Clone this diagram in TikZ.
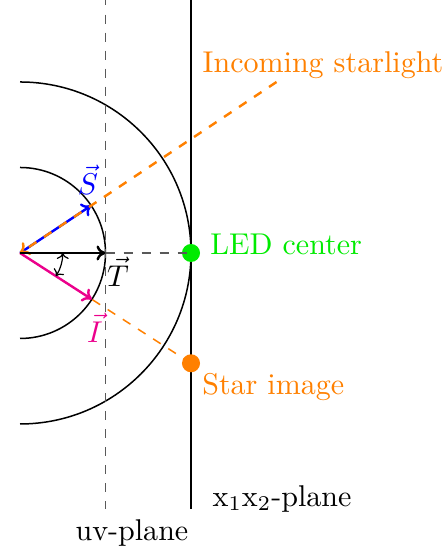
\documentclass[tikz,border=0pt]{standalone}
\usetikzlibrary{arrows.meta,calc}
\definecolor{myorange}{RGB}{255,128,0}
\definecolor{mypink}{RGB}{235,0,140}
\definecolor{myblue}{RGB}{0,0,255}
\definecolor{mygreen}{RGB}{0,235,0}
\begin{document}
\begin{tikzpicture}[
  plane/.style={line width=0.8pt},
  uvline/.style={dashed, black!65, line width=0.55pt},
  vecarrow/.style={-{To[length=3pt,width=5pt]}, line width=0.8pt},
  lbl/.style={anchor=base west, inner sep=0pt},
  dotstyle/.style={circle, inner sep=0pt, minimum size=6pt}
]
\useasboundingbox (-0.234,-3.509) rectangle (4.947,2.959);
\coordinate (O) at (0,0);
\coordinate (Ttip) at (1,0);
\coordinate (Far) at (3,2);
\coordinate (Stip) at ($(O)!1cm!(Far)$);
\coordinate (StarPos) at (2,-1.29);
\coordinate (Itip) at ($(O)!1cm!(StarPos)$);
\coordinate (uvtop) at (1,3);
\coordinate (uvbot) at (1,-3);
\coordinate (xtop) at (2,3);
\coordinate (xbot) at (2,-3);
% circles
\draw[line width=0.5pt] (0,1) arc (90:-90:1);
\draw[line width=0.5pt] (0,2) arc (90:-90:2);
% planes
\draw[uvline] (uvtop) -- (uvbot);
\draw[plane] (xtop) -- (xbot);
% LED dot and star dot
\node[dotstyle, fill=mygreen] (led) at (2,0) {};
\node[dotstyle, fill=myorange] (star) at (StarPos) {};
\draw[uvline] (Ttip) -- (led.center);
% incoming light
\draw[myorange, line width=0.5pt, dashed] (star.center) -- (O);
\draw[myblue, vecarrow] (O) -- (Stip);
\draw[myorange, dashed, line width=0.8pt, -{To[length=3pt,width=5pt]}] (Far) -- (O);
\draw[mypink, vecarrow] (O) -- (Itip);
\draw[black, vecarrow] (O) -- (Ttip);
% angle
\draw[{To[length=2pt,width=4pt]}-{To[length=2pt,width=4pt]}, line width=0.4pt] (0.5,0) arc (0:-32.8:0.5);
% labels
\node[myblue] (Slbl) at (0.795,0.854) {$\vec{S}$};
\node (Tlbl) at (1.146,-0.222) {$\vec{T}$};
\node[mypink] (Ilbl) at (0.877,-0.877) {$\vec{I}$};
\node[lbl, myorange] (inc) at (2.13,2.109) {Incoming starlight};
\node[lbl, mygreen] (ledl) at (2.22,-0.02) {LED center};
\node[lbl, myorange] (starl) at (2.125,-1.66) {Star image};
\node[lbl] (xl) at (2.246,-2.96) {$\mathrm{x}_1\mathrm{x}_2$-plane};
\node[lbl] (uvl) at (0.643,-3.357) {uv-plane};
\end{tikzpicture}
\end{document}
